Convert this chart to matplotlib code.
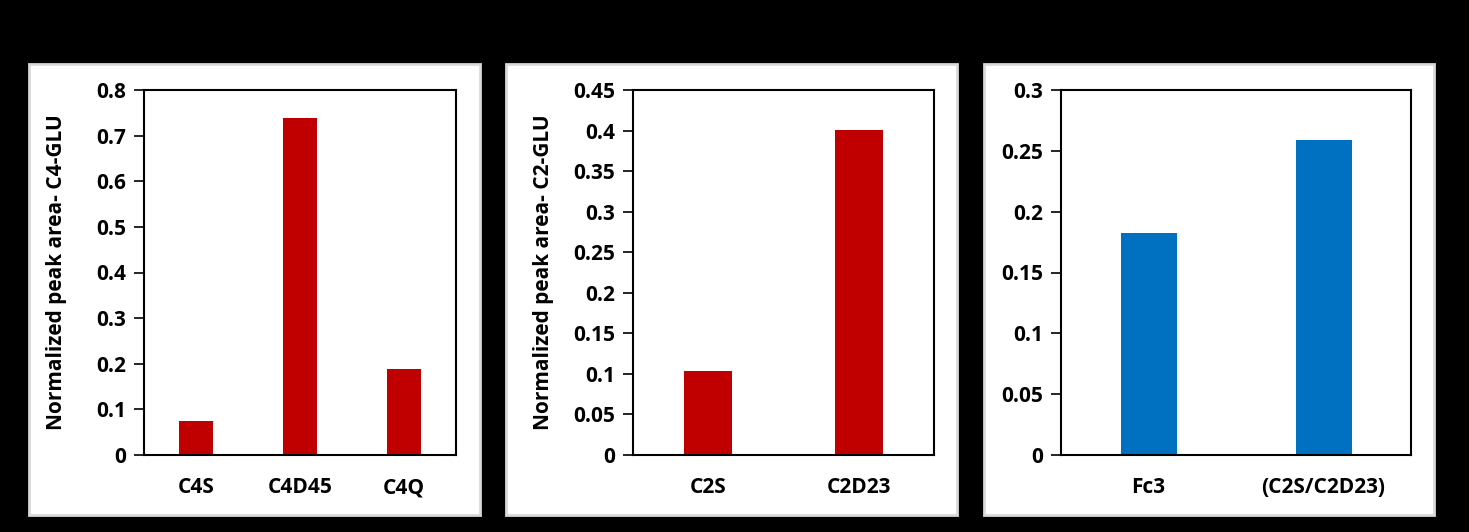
import matplotlib
matplotlib.use('Agg')
import matplotlib.pyplot as plt
from matplotlib.patches import Rectangle

# data
c4_labels = ['C4S', 'C4D45', 'C4Q']
c4_values = [0.0745, 0.7386, 0.1885]

c2_labels = ['C2S', 'C2D23']
c2_values = [0.1034, 0.4008]

fc_labels = ['Fc3', '(C2S/C2D23)']
fc_values = [0.1821, 0.2587]

RED = '#C00000'
BLUE = '#0070C0'

plt.rcParams['font.family'] = ['Open Sans', 'DejaVu Sans']
plt.rcParams['font.weight'] = 'bold'

W, H = 1469, 532
FS = 15
fig = plt.figure(figsize=(W / 100, H / 100), dpi=100, facecolor='black')


def px_rect(x0, y0, x1, y1):
    return [x0 / W, (H - y1) / H, (x1 - x0) / W, (y1 - y0) / H]


# white panels with light grey border
for x0, x1 in [(29, 480), (506, 957), (984, 1434)]:
    fig.patches.append(Rectangle((x0 / W, (H - 515) / H), (x1 - x0) / W, (515 - 64) / H,
                                 transform=fig.transFigure, facecolor='white',
                                 edgecolor='#D9D9D9', linewidth=2, zorder=-5))


def bar_panel(rect, labels, values, color, ymax, ystep, ylabel=None, label_x=None):
    ax = fig.add_axes(px_rect(*rect))
    x = range(len(labels))
    ax.bar(x, values, width=0.32, color=color)
    ax.set_xlim(-0.5, len(labels) - 0.5)
    ax.set_ylim(0, ymax)
    ticks = [round(i * ystep, 3) for i in range(int(round(ymax / ystep)) + 1)]
    ax.set_yticks(ticks)
    ax.set_yticklabels(['{:g}'.format(t) for t in ticks])
    ax.set_xticks(list(x))
    ax.set_xticklabels(labels)
    ax.tick_params(axis='x', length=0, pad=16, labelsize=FS)
    ax.tick_params(axis='y', direction='out', length=7, width=1.2, pad=6, labelsize=FS)
    for s in ax.spines.values():
        s.set_linewidth(1.5)
        s.set_color('black')
    if ylabel:
        ax.set_ylabel(ylabel, fontsize=FS, fontweight='bold')
        ax.yaxis.set_label_coords(label_x, 0.5)
    return ax


bar_panel((144, 90, 456, 455), c4_labels, c4_values, RED, 0.8, 0.1,
          ylabel='Normalized peak area- C4-GLU', label_x=-0.248)
bar_panel((633, 90, 934, 455), c2_labels, c2_values, RED, 0.45, 0.05,
          ylabel='Normalized peak area- C2-GLU', label_x=-0.262)
bar_panel((1061, 90, 1411, 455), fc_labels, fc_values, BLUE, 0.3, 0.05)

fig.savefig('out.png', dpi=100, facecolor='black')
